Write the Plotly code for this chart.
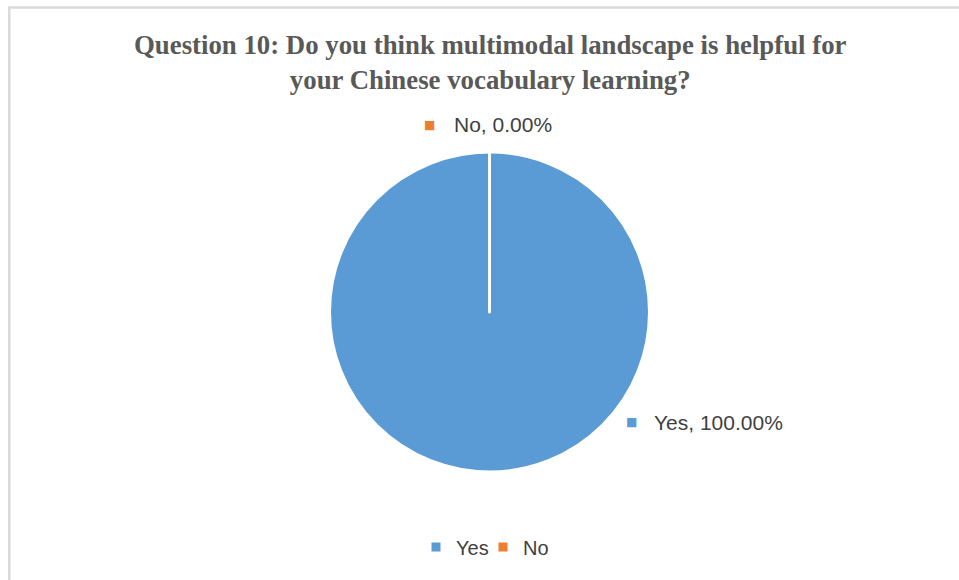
import plotly.graph_objects as go

labels = ["Yes", "No"]
values = [100.0, 0.0]
colors = ["#5B9BD5", "#ED7D31"]
title_text = "Question 10: Do you think multimodal landscape is helpful for<br>your Chinese vocabulary learning?"

W, H = 959, 580
cx, cy, r = 489.5, 312, 160

fig = go.Figure()
fig.add_trace(go.Pie(
    labels=labels, values=values, sort=False, direction="clockwise", rotation=0,
    marker=dict(colors=colors, line=dict(color="white", width=3)),
    textinfo="none", hoverinfo="label+percent",
    domain=dict(x=[(cx - r) / W, (cx + r) / W], y=[(H - cy - r) / H, (H - cy + r) / H]),
))

total = sum(values)
# label anchor positions (px): marker centre x, text left x, centre y
label_pos = {"No": (429.5, 452, 125), "Yes": (631.5, 652, 422)}
for lab, val, col in zip(labels, values, colors):
    mx, tx, y = label_pos[lab]
    fig.add_annotation(
        x=mx / W, y=1 - y / H, xref="paper", yref="paper", xanchor="center", yanchor="middle",
        showarrow=False, text="■",
        font=dict(family="DejaVu Sans", size=12, color=col),
    )
    fig.add_annotation(
        x=tx / W, y=1 - y / H, xref="paper", yref="paper", xanchor="left", yanchor="middle",
        showarrow=False, text=f"{lab}, {val / total * 100:.2f}%",
        font=dict(family="Liberation Sans", size=21, color="#404040"),
    )

fig.add_annotation(
    x=490 / W, y=1 - 28 / H, xref="paper", yref="paper", xanchor="center", yanchor="top",
    showarrow=False, text=title_text, align="center",
    font=dict(family="Liberation Serif", size=26.8, color="#595959", weight="bold"),
)

fig.add_shape(type="rect", xref="paper", yref="paper",
              x0=9.3 / W, x1=1.02, y0=-0.02, y1=1 - 7.5 / H,
              line=dict(color="#D9D9D9", width=2.5), layer="below")

fig.update_layout(
    width=W, height=H, margin=dict(l=0, r=0, t=0, b=0),
    paper_bgcolor="white", plot_bgcolor="white",
    showlegend=True,
    legend=dict(orientation="h", x=483 / W, xanchor="center", y=1 - 547 / H, yanchor="middle",
                font=dict(family="Liberation Sans", size=20, color="#404040"),
                entrywidth=22, entrywidthmode="pixels", traceorder="normal"),
)

fig.write_html("out.html")
